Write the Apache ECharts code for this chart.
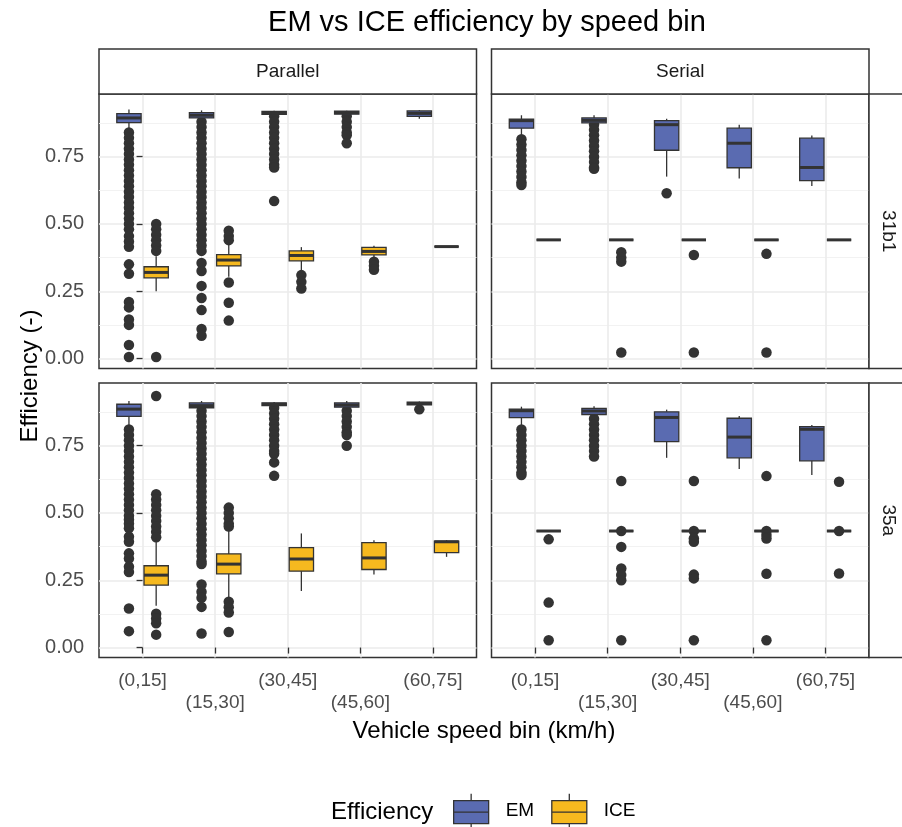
<!DOCTYPE html>
<html>
<head>
<meta charset="utf-8">
<title>EM vs ICE efficiency by speed bin</title>
<script src="https://cdn.jsdelivr.net/npm/echarts@6.0.0/dist/echarts.min.js"></script>
<style>
  html, body { margin: 0; padding: 0; background: #fff; }
  #chart { width: 902px; height: 827px; }
</style>
</head>
<body>
<div id="chart"></div>
<script>
// categories and ticks
const speedBins = ['(0,15]', '(15,30]', '(30,45]', '(45,60]', '(60,75]'];
const yTicks = [0, 0.25, 0.5, 0.75];
const yMinorTicks = [0.125, 0.375, 0.625, 0.875];

// box stats per speed bin: [lower whisker, Q1, median, Q3, upper whisker]
const parallel31b1EM = [
  [0.855, 0.877, 0.894, 0.910, 0.925],
  [0.885, 0.894, 0.904, 0.914, 0.922],
  [0.906, 0.907, 0.913, 0.918, 0.921],
  [0.906, 0.908, 0.914, 0.919, 0.921],
  [0.891, 0.900, 0.911, 0.920, 0.923]
];
const parallel31b1ICE = [
  [0.250, 0.300, 0.320, 0.341, 0.380],
  [0.304, 0.344, 0.366, 0.386, 0.430],
  [0.329, 0.363, 0.383, 0.400, 0.414],
  [0.366, 0.385, 0.398, 0.413, 0.419],
  [0.416, 0.416, 0.416, 0.416, 0.416]
];
const serial31b1EM = [
  [0.823, 0.856, 0.884, 0.890, 0.904],
  [0.872, 0.876, 0.885, 0.894, 0.904],
  [0.676, 0.774, 0.869, 0.884, 0.891],
  [0.669, 0.709, 0.800, 0.856, 0.869],
  [0.641, 0.661, 0.710, 0.819, 0.829]
];
const serial31b1ICE = [
  [0.441, 0.441, 0.441, 0.441, 0.441],
  [0.441, 0.441, 0.441, 0.441, 0.441],
  [0.441, 0.441, 0.441, 0.441, 0.441],
  [0.441, 0.441, 0.441, 0.441, 0.441],
  [0.441, 0.441, 0.441, 0.441, 0.441]
];
const parallel35aEM = [
  [0.820, 0.859, 0.886, 0.904, 0.916],
  [0.885, 0.891, 0.899, 0.909, 0.916],
  [0.897, 0.899, 0.904, 0.909, 0.912],
  [0.885, 0.893, 0.901, 0.909, 0.916],
  [0.900, 0.902, 0.907, 0.912, 0.914]
];
const parallel35aICE = [
  [0.155, 0.232, 0.269, 0.304, 0.405],
  [0.164, 0.274, 0.310, 0.348, 0.445],
  [0.210, 0.284, 0.329, 0.371, 0.424],
  [0.271, 0.290, 0.333, 0.390, 0.399],
  [0.337, 0.353, 0.393, 0.395, 0.399]
];
const serial35aEM = [
  [0.827, 0.854, 0.880, 0.886, 0.895],
  [0.860, 0.866, 0.879, 0.889, 0.897],
  [0.705, 0.765, 0.855, 0.876, 0.884],
  [0.663, 0.705, 0.782, 0.852, 0.860],
  [0.641, 0.694, 0.811, 0.821, 0.827]
];
const serial35aICE = [
  [0.433, 0.433, 0.433, 0.433, 0.433],
  [0.433, 0.433, 0.433, 0.433, 0.433],
  [0.433, 0.433, 0.433, 0.433, 0.433],
  [0.433, 0.433, 0.433, 0.433, 0.433],
  [0.433, 0.433, 0.433, 0.433, 0.433]
];

// outliers per speed bin
const parallel31b1EMOut = [
  [0.84, 0.82, 0.80, 0.78, 0.76, 0.74, 0.72, 0.70, 0.68, 0.66, 0.64, 0.62, 0.60, 0.58, 0.56, 0.54, 0.52, 0.50, 0.48,
   0.455, 0.435, 0.415, 0.35, 0.315, 0.21, 0.19, 0.145, 0.125, 0.05, 0.006],
  [0.88, 0.86, 0.84, 0.82, 0.80, 0.78, 0.76, 0.74, 0.72, 0.70, 0.68, 0.66, 0.64, 0.62, 0.60, 0.58, 0.56, 0.54, 0.52, 0.50,
   0.48, 0.46, 0.44, 0.42, 0.40, 0.355, 0.325, 0.27, 0.225, 0.18, 0.11, 0.085],
  [0.90, 0.88, 0.86, 0.84, 0.82, 0.80, 0.78, 0.76, 0.74, 0.72, 0.71, 0.585],
  [0.90, 0.88, 0.86, 0.84, 0.83, 0.80],
  []
];
const parallel31b1ICEOut = [
  [0.50, 0.48, 0.46, 0.44, 0.42, 0.40, 0.006],
  [0.475, 0.455, 0.44, 0.2825, 0.2075, 0.141],
  [0.31, 0.285, 0.26],
  [0.36, 0.345, 0.33],
  []
];
const serial31b1EMOut = [
  [0.815, 0.795, 0.775, 0.755, 0.735, 0.715, 0.695, 0.675, 0.655, 0.645],
  [0.87, 0.85, 0.83, 0.81, 0.79, 0.77, 0.75, 0.73, 0.71, 0.705],
  [0.614],
  [],
  []
];
const serial31b1ICEOut = [
  [],
  [0.395, 0.375, 0.36, 0.0225],
  [0.385, 0.0225],
  [0.389, 0.0225],
  []
];
const parallel35aEMOut = [
  [0.81, 0.79, 0.77, 0.75, 0.73, 0.71, 0.69, 0.67, 0.65, 0.63, 0.61, 0.59, 0.57, 0.55, 0.53, 0.51, 0.49,
   0.475, 0.46, 0.443, 0.412, 0.393, 0.35, 0.331, 0.30, 0.281, 0.145, 0.061],
  [0.88, 0.86, 0.84, 0.82, 0.80, 0.78, 0.76, 0.74, 0.72, 0.70, 0.68, 0.66, 0.64, 0.62, 0.60, 0.58, 0.56, 0.54, 0.52,
   0.50, 0.48, 0.46, 0.44, 0.42, 0.40, 0.38, 0.36, 0.34, 0.32, 0.31, 0.234, 0.207, 0.185, 0.151, 0.052],
  [0.89, 0.87, 0.85, 0.83, 0.81, 0.79, 0.77, 0.75, 0.73, 0.72, 0.688, 0.638],
  [0.88, 0.86, 0.84, 0.82, 0.80, 0.79, 0.75],
  [0.885]
];
const parallel35aICEOut = [
  [0.935, 0.57, 0.55, 0.53, 0.51, 0.49, 0.47, 0.45, 0.43, 0.41, 0.126, 0.108, 0.09, 0.048],
  [0.52, 0.50, 0.48, 0.46, 0.45, 0.17, 0.15, 0.13, 0.058],
  [],
  [],
  []
];
const serial35aEMOut = [
  [0.81, 0.79, 0.77, 0.75, 0.73, 0.71, 0.69, 0.67, 0.65, 0.641],
  [0.85, 0.83, 0.81, 0.79, 0.77, 0.75, 0.73, 0.71],
  [],
  [],
  []
];
const serial35aICEOut = [
  [0.402, 0.167, 0.027],
  [0.619, 0.433, 0.374, 0.294, 0.27, 0.25, 0.027],
  [0.619, 0.433, 0.405, 0.393, 0.271, 0.257, 0.027],
  [0.637, 0.433, 0.418, 0.405, 0.274, 0.027],
  [0.616, 0.433, 0.275]
];

const FONT = "'Liberation Sans', Arial, sans-serif";
const EM_COLOR = '#5A6BB1';
const ICE_COLOR = '#F6B91F';
const DARK = '#333333';
const BOX_WIDTH = 0.335;
const EM_SHIFT = -0.1875;
const ICE_SHIFT = 0.1875;
const Y_MIN = -0.037;
const Y_MAX = 0.983;

// facet layout (px)
const panels = [
  { left: 99, top: 94, em: parallel31b1EM, ice: parallel31b1ICE, emOut: parallel31b1EMOut, iceOut: parallel31b1ICEOut, bottom: false, first: true },
  { left: 491.5, top: 94, em: serial31b1EM, ice: serial31b1ICE, emOut: serial31b1EMOut, iceOut: serial31b1ICEOut, bottom: false, first: false },
  { left: 99, top: 383, em: parallel35aEM, ice: parallel35aICE, emOut: parallel35aEMOut, iceOut: parallel35aICEOut, bottom: true, first: true },
  { left: 491.5, top: 383, em: serial35aEM, ice: serial35aICE, emOut: serial35aEMOut, iceOut: serial35aICEOut, bottom: true, first: false }
];
const PANEL_W = 377.5;
const PANEL_H = 274.5;
const STRIP_TOP = 49;

function boxRenderer(shift) {
  return function (params, api) {
    const x = api.value(0) + shift;
    const lo = api.coord([x, api.value(1)]);
    const q1 = api.coord([x, api.value(2)]);
    const md = api.coord([x, api.value(3)]);
    const q3 = api.coord([x, api.value(4)]);
    const hi = api.coord([x, api.value(5)]);
    const w = api.size([BOX_WIDTH, 0])[0];
    const line = { stroke: DARK, lineWidth: 1.3 };
    return {
      type: 'group',
      children: [
        { type: 'line', shape: { x1: lo[0], y1: lo[1], x2: q1[0], y2: q1[1] }, style: line },
        { type: 'line', shape: { x1: q3[0], y1: q3[1], x2: hi[0], y2: hi[1] }, style: line },
        { type: 'rect', shape: { x: q3[0] - w / 2, y: q3[1], width: w, height: q1[1] - q3[1] },
          style: { fill: api.visual('color'), stroke: DARK, lineWidth: 1.3 } },
        { type: 'line', shape: { x1: md[0] - w / 2, y1: md[1], x2: md[0] + w / 2, y2: md[1] },
          style: { stroke: DARK, lineWidth: 3 } }
      ]
    };
  };
}

function outlierData(lists, shift) {
  const out = [];
  lists.forEach(function (vals, i) {
    vals.forEach(function (v) { out.push([i + shift, v]); });
  });
  return out;
}

const grids = [], xAxes = [], yAxes = [], series = [];
panels.forEach(function (p, g) {
  grids.push({
    left: p.left, top: p.top, width: PANEL_W, height: PANEL_H,
    show: true, backgroundColor: '#fff', borderColor: DARK, borderWidth: 1.5
  });
  xAxes.push({
    type: 'value', gridIndex: g, min: -0.6, max: 4.6,
    axisLine: { show: false },
    axisTick: { show: p.bottom, length: 6, customValues: [0, 1, 2, 3, 4], lineStyle: { color: DARK, width: 1.3 } },
    axisLabel: {
      show: p.bottom, customValues: [0, 1, 2, 3, 4], margin: 12,
      fontFamily: FONT, fontSize: 19, color: '#4D4D4D', lineHeight: 22,
      formatter: function (v) {
        const i = Math.round(v);
        return i % 2 ? '\n' + speedBins[i] : speedBins[i];
      }
    },
    splitLine: { show: true, lineStyle: { color: '#EBEBEB', width: 1.6 } }
  });
  yAxes.push({
    type: 'value', gridIndex: g, min: Y_MIN, max: Y_MAX,
    axisLine: { show: false },
    axisTick: { show: p.first, length: 6, customValues: yTicks, lineStyle: { color: DARK, width: 1.3 } },
    axisLabel: {
      show: p.first, customValues: yTicks, margin: 15,
      fontFamily: FONT, fontSize: 20, color: '#4D4D4D',
      formatter: function (v) { return v.toFixed(2); }
    },
    splitLine: { show: true, lineStyle: { color: '#EBEBEB', width: 1.6 } }
  });
  series.push({
    type: 'scatter', name: 'EM outliers', xAxisIndex: g, yAxisIndex: g, z: 2,
    symbol: 'circle', symbolSize: 10.5, itemStyle: { color: DARK, opacity: 1 }, silent: true,
    data: outlierData(p.emOut, EM_SHIFT)
  });
  series.push({
    type: 'scatter', name: 'ICE outliers', xAxisIndex: g, yAxisIndex: g, z: 2,
    symbol: 'circle', symbolSize: 10.5, itemStyle: { color: DARK, opacity: 1 }, silent: true,
    data: outlierData(p.iceOut, ICE_SHIFT)
  });
  series.push({
    type: 'custom', name: 'EM', xAxisIndex: g, yAxisIndex: g, z: 3,
    itemStyle: { color: EM_COLOR },
    encode: { x: 0, y: [1, 2, 3, 4, 5] },
    renderItem: boxRenderer(EM_SHIFT),
    data: p.em.map(function (s, i) { return [i].concat(s); })
  });
  series.push({
    type: 'custom', name: 'ICE', xAxisIndex: g, yAxisIndex: g, z: 3,
    itemStyle: { color: ICE_COLOR },
    encode: { x: 0, y: [1, 2, 3, 4, 5] },
    renderItem: boxRenderer(ICE_SHIFT),
    data: p.ice.map(function (s, i) { return [i].concat(s); })
  });
});
// minor horizontal grid lines
panels.forEach(function (p, g) {
  yAxes.push({
    type: 'value', gridIndex: g, min: Y_MIN, max: Y_MAX,
    axisLine: { show: false }, axisLabel: { show: false },
    axisTick: { show: false, customValues: yMinorTicks },
    splitLine: { show: true, lineStyle: { color: '#F0F0F0', width: 0.9 } }
  });
});

const boxIcon = 'path://M17.5,0 L17.5,7 M0,7 L35,7 L35,30 L0,30 Z M0,18.5 L35,18.5 M17.5,30 L17.5,34';

function stripText(text, x, y, rot) {
  return {
    type: 'text', x: x, y: y, rotation: rot || 0, z: 10,
    style: { text: text, fontFamily: FONT, fontSize: 19, fill: '#1A1A1A',
      textAlign: 'center', textVerticalAlign: 'middle', align: 'center', verticalAlign: 'middle' }
  };
}
function stripRect(x, y, w, h) {
  return { type: 'rect', z: 9, shape: { x: x, y: y, width: w, height: h },
    style: { fill: '#fff', stroke: DARK, lineWidth: 1.5 } };
}

const option = {
  animation: false,
  backgroundColor: '#fff',
  title: {
    text: 'EM vs ICE efficiency by speed bin',
    left: 482, top: 3, textAlign: 'center',
    textStyle: { fontFamily: FONT, fontSize: 29, fontWeight: 'normal', color: '#000' }
  },
  legend: {
    left: 453, top: 793, padding: 0,
    itemWidth: 35, itemHeight: 34, itemGap: 17,
    itemStyle: { borderColor: DARK, borderWidth: 1.3 },
    textStyle: { fontFamily: FONT, fontSize: 19, color: '#000', padding: [0, 0, 0, 12] },
    data: [{ name: 'EM', icon: boxIcon }, { name: 'ICE', icon: boxIcon }],
    selectedMode: false
  },
  grid: grids,
  xAxis: xAxes,
  yAxis: yAxes,
  series: series,
  graphic: [
    stripRect(99, STRIP_TOP, PANEL_W, 94 - STRIP_TOP),
    stripRect(491.5, STRIP_TOP, PANEL_W, 94 - STRIP_TOP),
    stripRect(869, 94, 40, PANEL_H),
    stripRect(869, 383, 40, PANEL_H),
    stripText('Parallel', 99 + PANEL_W / 2, (STRIP_TOP + 94) / 2),
    stripText('Serial', 491.5 + PANEL_W / 2, (STRIP_TOP + 94) / 2),
    stripText('31b1', 888, 94 + PANEL_H / 2, -Math.PI / 2),
    stripText('35a', 888, 383 + PANEL_H / 2, -Math.PI / 2),
    {
      type: 'text', x: 30, y: 376, rotation: Math.PI / 2,
      style: { text: 'Efficiency (-)', fontFamily: FONT, fontSize: 24, fill: '#000',
        textAlign: 'center', textVerticalAlign: 'middle', align: 'center', verticalAlign: 'middle' }
    },
    {
      type: 'text', x: 484, y: 731,
      style: { text: 'Vehicle speed bin (km/h)', fontFamily: FONT, fontSize: 24, fill: '#000',
        textAlign: 'center', textVerticalAlign: 'middle', align: 'center', verticalAlign: 'middle' }
    },
    {
      type: 'text', x: 331, y: 812,
      style: { text: 'Efficiency', fontFamily: FONT, fontSize: 24, fill: '#000',
        textAlign: 'left', textVerticalAlign: 'middle', align: 'left', verticalAlign: 'middle' }
    }
  ]
};

const chart = echarts.init(document.getElementById('chart'), null, { renderer: 'canvas' });
chart.setOption(option);
</script>
</body>
</html>
